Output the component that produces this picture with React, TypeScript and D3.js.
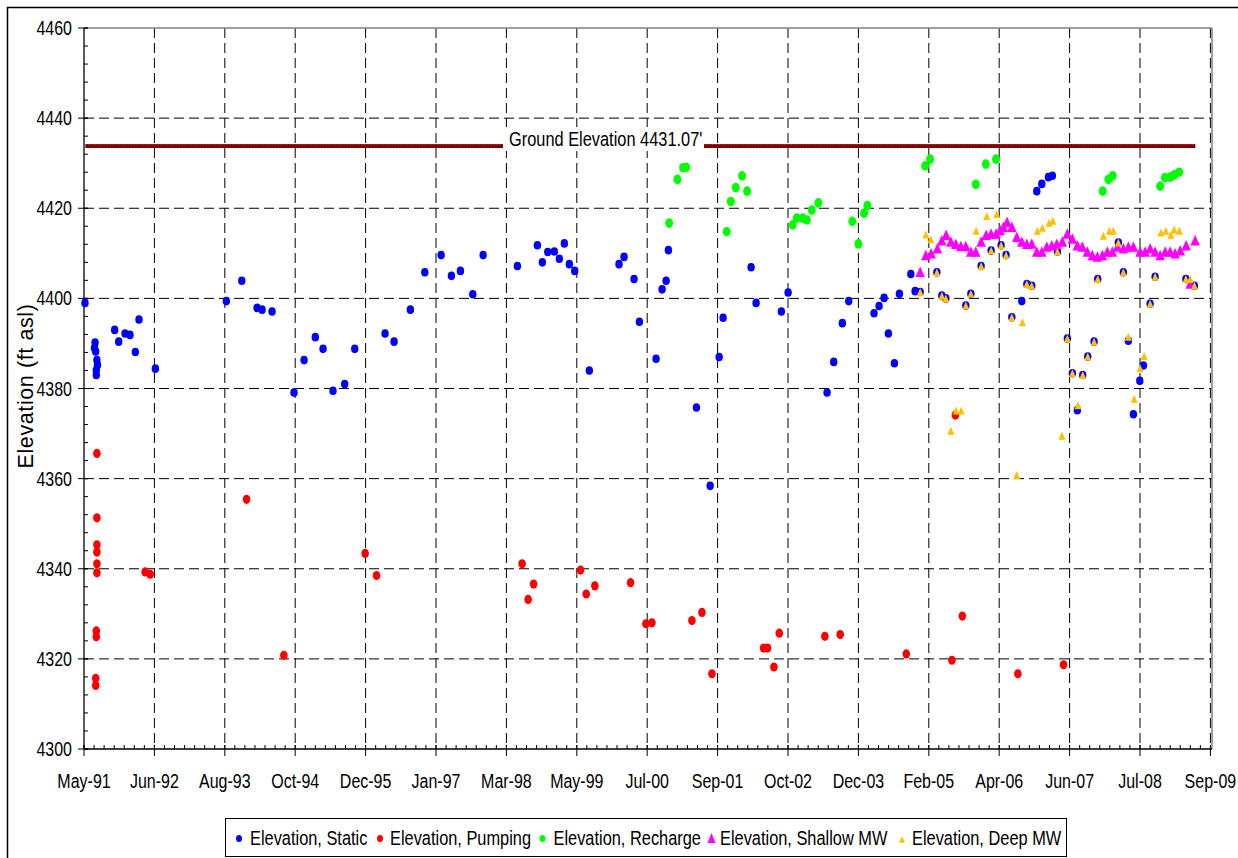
import React from 'react';
import * as d3 from 'd3';

// ---------- DATA ----------
const AXIS_START = Date.UTC(1991, 4, 1);
const TICK_STEP_DAYS = 420;
const MINOR_STEP_DAYS = 60;
const tickLabels = ['May-91', 'Jun-92', 'Aug-93', 'Oct-94', 'Dec-95', 'Jan-97', 'Mar-98', 'May-99', 'Jul-00',
  'Sep-01', 'Oct-02', 'Dec-03', 'Feb-05', 'Apr-06', 'Jun-07', 'Jul-08', 'Sep-09'];
const yTicks = [4300, 4320, 4340, 4360, 4380, 4400, 4420, 4440, 4460];
const Y_MINOR_STEP = 4;

const groundElevation = 4433.8;
const groundSpan = [1991.35, 2009.48];
const groundLabel = "Ground Elevation 4431.07'";

// [decimal year, elevation ft asl]
const staticElev: [number, number][] = [
  [1991.345, 4399.0],
  [1991.51, 4390.2], [1991.50, 4389.0], [1991.52, 4388.2], [1991.54, 4386.3], [1991.55, 4385.2], [1991.53, 4384.1], [1991.53, 4383.0],
  [1991.83, 4393.0], [1991.896, 4390.4], [1991.999, 4392.2], [1992.08, 4391.9], [1992.167, 4388.1], [1992.227, 4395.3], [1992.494, 4384.4],
  [1993.653, 4399.4], [1993.905, 4403.9], [1994.155, 4397.9], [1994.237, 4397.5], [1994.40, 4397.1], [1994.759, 4379.1], [1994.923, 4386.3],
  [1995.107, 4391.4], [1995.233, 4388.8], [1995.396, 4379.5], [1995.587, 4381.0], [1995.751, 4388.8], [1996.246, 4392.2], [1996.393, 4390.4],
  [1996.659, 4397.5], [1996.894, 4405.8], [1997.161, 4409.6], [1997.329, 4405.0], [1997.476, 4406.1], [1997.678, 4400.9], [1997.847, 4409.6],
  [1998.407, 4407.2], [1998.734, 4411.8], [1998.815, 4408.0], [1998.903, 4410.3], [1999.011, 4410.4], [1999.093, 4408.8], [1999.175, 4412.2],
  [1999.256, 4407.6], [1999.344, 4406.1], [1999.583, 4384.0], [2000.068, 4407.6], [2000.15, 4409.2], [2000.313, 4404.3], [2000.40, 4394.8],
  [2000.672, 4386.6], [2000.77, 4402.0], [2000.836, 4403.9], [2000.873, 4410.7], [2001.331, 4375.8], [2001.555, 4358.4], [2001.702, 4387.0],
  [2001.767, 4395.7], [2002.224, 4406.9], [2002.306, 4399.0], [2002.719, 4397.1], [2002.829, 4401.3], [2003.466, 4379.1], [2003.575, 4385.9],
  [2003.716, 4394.5], [2003.82, 4399.4], [2004.233, 4396.7], [2004.315, 4398.3], [2004.397, 4400.1], [2004.467, 4392.2], [2004.565, 4385.6],
  [2004.647, 4401.0], [2004.833, 4405.4], [2004.903, 4401.6], [2004.985, 4401.4],
  [2005.258, 4405.8], [2005.339, 4400.6], [2005.405, 4400.0], [2005.731, 4398.4], [2005.813, 4401.0], [2005.981, 4407.2], [2006.145, 4410.6],
  [2006.308, 4411.8], [2006.389, 4409.6], [2006.483, 4395.8], [2006.646, 4399.4], [2006.728, 4403.2], [2006.809, 4402.8], [2006.891, 4423.8],
  [2006.973, 4425.4], [2007.081, 4426.9], [2007.146, 4427.2], [2007.228, 4410.4], [2007.391, 4391.1], [2007.473, 4383.4], [2007.554, 4375.2],
  [2007.642, 4383.0], [2007.724, 4387.1], [2007.827, 4390.4], [2007.887, 4404.3], [2008.224, 4412.4], [2008.305, 4405.8], [2008.387, 4390.6],
  [2008.469, 4374.3], [2008.573, 4381.7], [2008.632, 4385.1], [2008.741, 4398.8], [2008.823, 4404.8], [2009.325, 4404.3], [2009.465, 4402.8],
];

const pumpingElev: [number, number][] = [
  [1991.54, 4365.6], [1991.54, 4351.3], [1991.54, 4345.3], [1991.54, 4343.7], [1991.54, 4341.1], [1991.54, 4339.1],
  [1991.53, 4326.2], [1991.53, 4324.9], [1991.52, 4315.7], [1991.52, 4314.1],
  [1992.327, 4339.3], [1992.409, 4338.8], [1993.983, 4355.4], [1994.593, 4320.8], [1995.921, 4343.4], [1996.108, 4338.5],
  [1998.484, 4341.1], [1998.583, 4333.2], [1998.672, 4336.6], [1999.439, 4339.7], [1999.532, 4334.4], [1999.673, 4336.2],
  [2000.256, 4336.9], [2000.506, 4327.8], [2000.604, 4328.0], [2001.257, 4328.5], [2001.421, 4330.3], [2001.584, 4316.7],
  [2002.428, 4322.4], [2002.494, 4322.4], [2002.597, 4318.2], [2002.685, 4325.7], [2003.43, 4325.0], [2003.681, 4325.4],
  [2004.759, 4321.1], [2005.504, 4319.7], [2005.561, 4374.1], [2005.674, 4329.5], [2006.582, 4316.7], [2007.329, 4318.7],
];

const rechargeElev: [number, number][] = [
  [2000.885, 4416.7], [2001.02, 4426.4], [2001.113, 4429.0], [2001.162, 4429.1],
  [2001.827, 4414.8], [2001.892, 4421.5], [2001.974, 4424.6], [2002.077, 4427.2], [2002.159, 4423.8],
  [2002.905, 4416.3], [2002.971, 4417.8], [2003.069, 4417.8], [2003.134, 4417.4], [2003.216, 4419.6], [2003.323, 4421.2],
  [2003.879, 4417.1], [2003.977, 4412.1], [2004.07, 4418.9], [2004.124, 4420.6],
  [2005.066, 4429.4], [2005.148, 4430.9], [2005.894, 4425.3], [2006.058, 4429.8], [2006.226, 4430.9],
  [2007.969, 4423.8], [2008.061, 4426.4], [2008.132, 4427.2],
  [2008.905, 4424.9], [2008.982, 4426.8], [2009.068, 4426.9], [2009.134, 4427.4], [2009.215, 4428.0],
];

const shallowMW: [number, number][] = [
  [2004.985, 4405.9], [2005.078, 4409.6], [2005.164, 4410.0], [2005.267, 4411.1], [2005.339, 4412.9], [2005.409, 4414.1],
  [2005.486, 4412.6], [2005.568, 4412.1], [2005.649, 4411.6], [2005.731, 4411.6], [2005.813, 4410.4], [2005.894, 4410.4],
  [2005.981, 4412.6], [2006.063, 4414.1], [2006.144, 4414.4], [2006.226, 4414.4], [2006.291, 4415.2], [2006.345, 4415.9],
  [2006.406, 4417.0], [2006.483, 4415.9], [2006.564, 4413.7], [2006.646, 4412.6], [2006.728, 4412.1], [2006.809, 4412.2],
  [2006.891, 4410.4], [2006.973, 4410.4], [2007.054, 4411.5], [2007.136, 4411.8], [2007.218, 4412.1], [2007.309, 4412.6],
  [2007.391, 4414.4], [2007.473, 4413.3], [2007.554, 4411.8], [2007.636, 4411.5], [2007.718, 4410.4], [2007.799, 4409.6],
  [2007.881, 4409.3], [2007.963, 4409.6], [2008.044, 4410.4], [2008.126, 4410.4], [2008.208, 4411.5], [2008.306, 4411.1],
  [2008.387, 4411.5], [2008.469, 4411.5], [2008.578, 4410.4], [2008.66, 4410.4], [2008.742, 4411.1], [2008.823, 4410.4],
  [2008.905, 4409.6], [2008.987, 4410.4], [2009.068, 4410.4], [2009.15, 4410.0], [2009.232, 4410.7], [2009.33, 4411.8],
  [2009.395, 4403.3], [2009.477, 4412.9],
];

const deepMW: [number, number][] = [
  [2005.078, 4414.2], [2005.16, 4413.1], [2005.899, 4415.0], [2006.074, 4418.3], [2006.237, 4418.7],
  [2006.901, 4415.0], [2006.983, 4415.7], [2007.092, 4416.8], [2007.152, 4417.2],
  [2007.979, 4413.9], [2008.077, 4415.0], [2008.142, 4415.0],
  [2008.916, 4414.6], [2008.998, 4415.0], [2009.079, 4414.1], [2009.134, 4415.3], [2009.22, 4415.0],
  [2004.985, 4401.4], [2005.258, 4405.8], [2005.339, 4400.6], [2005.405, 4400.0], [2005.731, 4398.4], [2005.813, 4401.0],
  [2005.981, 4407.2], [2006.145, 4410.6], [2006.308, 4411.8], [2006.389, 4409.6], [2006.483, 4395.8], [2006.656, 4394.7],
  [2006.728, 4403.2], [2006.809, 4402.8], [2007.228, 4410.4], [2007.391, 4391.1], [2007.473, 4383.4], [2007.642, 4383.0],
  [2007.724, 4387.1], [2007.827, 4390.4], [2007.887, 4404.3], [2008.224, 4412.4], [2008.305, 4405.8], [2008.387, 4391.5],
  [2008.741, 4398.8], [2008.823, 4404.8], [2009.325, 4404.3], [2009.395, 4404.3], [2009.465, 4402.8],
  [2005.486, 4370.6], [2005.572, 4375.1], [2005.654, 4375.1], [2006.564, 4360.8], [2007.302, 4369.5], [2007.562, 4376.3],
  [2008.481, 4377.7], [2008.578, 4384.5], [2008.644, 4387.2],
];

const legendNames = ['Elevation, Static', 'Elevation, Pumping', 'Elevation, Recharge', 'Elevation, Shallow MW', 'Elevation, Deep MW'];

// ---------- STYLE / LAYOUT ----------
const FONT = '"Liberation Sans", Arial, sans-serif';
const W = 1238, H = 858;
const PL = 84, PT = 28, PB = 749, PR_AXIS = 1210.4, PR_BORDER = 1212;
const COLORS = { static: '#0000FF', pumping: '#FF0000', recharge: '#00FF00', shallow: '#FF00FF', deep: '#FFC000', ground: '#800000' };

const DAY = 86400000;
const yearToDate = (y: number) => {
  const yr = Math.floor(y);
  const s = Date.UTC(yr, 0, 1), e = Date.UTC(yr + 1, 0, 1);
  return new Date(s + (y - yr) * (e - s));
};

const majorDates = tickLabels.map((_, i) => new Date(AXIS_START + i * TICK_STEP_DAYS * DAY));
const axisEnd = majorDates[majorDates.length - 1];
const x = d3.scaleUtc().domain([new Date(AXIS_START), axisEnd]).range([PL, PR_AXIS]);
const y = d3.scaleLinear().domain([yTicks[0], yTicks[yTicks.length - 1]]).range([PB, PT]);

const minorDates: Date[] = [];
for (let t = AXIS_START; t <= axisEnd.getTime(); t += MINOR_STEP_DAYS * DAY) minorDates.push(new Date(t));
const minorY = d3.range(yTicks[0], yTicks[yTicks.length - 1] + 0.001, Y_MINOR_STEP);

function SText({ x, y, anchor = 'start', size = 19.5, sx = 0.82, children }: any) {
  return (
    <g transform={`translate(${x},${y}) scale(${sx},1)`}>
      <text x={0} y={0} textAnchor={anchor} fontSize={size} fontFamily={FONT} fill="#000">{children}</text>
    </g>
  );
}

const tri = (cx: number, cy: number, w: number, h: number) =>
  `M${cx},${cy - h / 2}L${cx + w / 2},${cy + h / 2}L${cx - w / 2},${cy + h / 2}Z`;

function Ellipses({ data, color, rx = 3.8, ry = 4.5 }: any) {
  return (
    <g>
      {data.map((d: [number, number], i: number) => (
        <ellipse key={i} cx={x(yearToDate(d[0]))} cy={y(d[1])} rx={rx} ry={ry} fill={color} />
      ))}
    </g>
  );
}

function Triangles({ data, color, w, h }: any) {
  return (
    <g>
      {data.map((d: [number, number], i: number) => (
        <path key={i} d={tri(x(yearToDate(d[0])), y(d[1]), w, h)} fill={color} />
      ))}
    </g>
  );
}

export default function App() {
  const gy = y(groundElevation);
  const legendMarkX = [239, 380, 542.5, 711.5, 902];
  const legendTextX = [250, 390, 553.5, 720, 912];
  const legendColors = [COLORS.static, COLORS.pumping, COLORS.recharge, COLORS.shallow, COLORS.deep];
  return (
    <svg width={W} height={H} style={{ position: 'absolute', left: 0, top: 0, background: '#fff' }}>
      <rect x={0} y={0} width={W} height={H} fill="#fff" />
      {/* outer chart border */}
      <rect x={7.5} y={7.5} width={W + 20} height={H + 20} fill="none" stroke="#000" strokeWidth={1.5} />

      {/* grid */}
      <g stroke="#000" strokeWidth={1} strokeDasharray="10,5">
        {yTicks.slice(1, -1).map((v) => (
          <line key={v} x1={PL} x2={PR_BORDER} y1={y(v)} y2={y(v)} />
        ))}
        {majorDates.slice(1).map((d, i) => (
          <line key={i} x1={x(d)} x2={x(d)} y1={PT} y2={PB} />
        ))}
      </g>

      {/* plot border top/right */}
      <line x1={PL} x2={PR_BORDER} y1={PT} y2={PT} stroke="#808080" strokeWidth={1.5} />
      <line x1={PR_BORDER} x2={PR_BORDER} y1={PT} y2={PB} stroke="#808080" strokeWidth={1.5} />

      {/* axes */}
      <line x1={PL} x2={PL} y1={PT} y2={PB} stroke="#000" strokeWidth={1.3} />
      <line x1={PL} x2={PR_BORDER} y1={PB} y2={PB} stroke="#000" strokeWidth={1.3} />
      <g stroke="#000" strokeWidth={1}>
        {minorY.map((v) => (
          <line key={'my' + v} x1={PL} x2={PL + 4} y1={y(v)} y2={y(v)} />
        ))}
        {yTicks.map((v) => (
          <line key={'Y' + v} x1={PL - 6} x2={PL + 4} y1={y(v)} y2={y(v)} />
        ))}
        {minorDates.map((d, i) => (
          <line key={'mx' + i} x1={x(d)} x2={x(d)} y1={PB - 4} y2={PB} />
        ))}
        {majorDates.map((d, i) => (
          <line key={'X' + i} x1={x(d)} x2={x(d)} y1={PB - 4} y2={PB + 7} />
        ))}
      </g>
      {yTicks.map((v) => (
        <SText key={'yl' + v} x={72} y={y(v) + 7} anchor="end">{v}</SText>
      ))}
      {majorDates.map((d, i) => (
        <SText key={'xl' + i} x={x(d)} y={787.5} anchor="middle">{tickLabels[i]}</SText>
      ))}

      {/* y title */}
      <text transform="translate(33,386) rotate(-90)" textAnchor="middle" fontSize={21.5} letterSpacing={0.6}
        fontFamily={FONT} fill="#000">Elevation (ft asl)</text>

      {/* ground elevation */}
      <line x1={x(yearToDate(groundSpan[0]))} x2={x(yearToDate(groundSpan[1]))} y1={gy} y2={gy}
        stroke={COLORS.ground} strokeWidth={4} />
      <line x1={x(yearToDate(groundSpan[0]))} x2={x(yearToDate(groundSpan[1]))} y1={gy - 1.5} y2={gy - 1.5}
        stroke="#b05050" strokeWidth={0.8} strokeDasharray="1.5,1.5" />
      <rect x={503} y={gy - 19} width={201} height={24} fill="#fff" />
      <SText x={509} y={gy} sx={0.84}>{groundLabel}</SText>

      {/* series */}
      <Ellipses data={staticElev} color={COLORS.static} rx={3.7} ry={4.3} />
      <Ellipses data={pumpingElev} color={COLORS.pumping} rx={3.8} ry={4.6} />
      <Ellipses data={rechargeElev} color={COLORS.recharge} rx={4} ry={4.8} />
      <Triangles data={shallowMW} color={COLORS.shallow} w={9.5} h={10.5} />
      <Triangles data={deepMW} color={COLORS.deep} w={7} h={8} />

      {/* legend */}
      <rect x={225.5} y={818.5} width={841} height={38} fill="#fff" stroke="#000" strokeWidth={1} />
      {legendNames.map((n, i) => (
        <g key={n}>
          {i < 3 ? (
            <ellipse cx={legendMarkX[i]} cy={838.5} rx={3} ry={3.6} fill={legendColors[i]} />
          ) : (
            <path d={tri(legendMarkX[i], i === 3 ? 838 : 839.5, i === 3 ? 8 : 6, i === 3 ? 10 : 6.5)} fill={legendColors[i]} />
          )}
          <SText x={legendTextX[i]} y={844.5} sx={0.84}>{n}</SText>
        </g>
      ))}
    </svg>
  );
}
